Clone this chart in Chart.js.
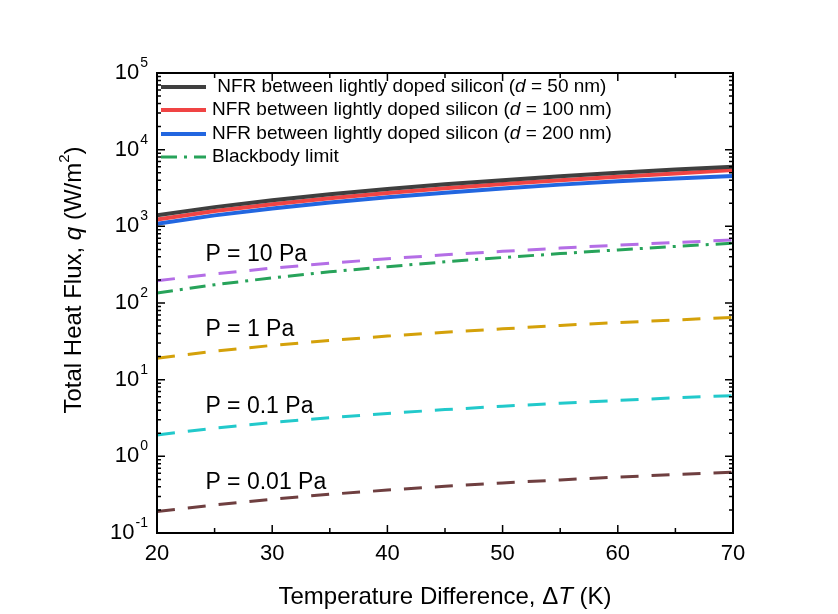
<!DOCTYPE html>
<html>
<head>
<meta charset="utf-8">
<script src="https://cdn.jsdelivr.net/npm/chart.js@4"></script>
<style>
  body { margin: 0; background: #fff; }
  #wrap { width: 838px; height: 614px; }
</style>
</head>
<body>
<div id="wrap"><canvas id="fluxChart" width="838" height="614"></canvas></div>
<script>
// data (q in W/m^2 vs temperature difference in K)
const deltaT = [20, 25, 30, 35, 40, 45, 50, 55, 60, 65, 70];
const nfr50 = [1390, 1780, 2190, 2620, 3060, 3530, 4000, 4490, 4990, 5500, 6000];
const nfr100 = [1230, 1580, 1940, 2320, 2720, 3130, 3560, 4000, 4440, 4900, 5420];
const nfr200 = [1080, 1390, 1710, 2040, 2390, 2750, 3120, 3500, 3880, 4210, 4530];
const blackbody = [135, 173, 213, 255, 298, 344, 392, 441, 493, 547, 603];
const p10 = [195, 240, 285, 330, 378, 425, 472, 520, 568, 615, 663];
const p1 = [19, 23.5, 28, 32.5, 37, 41.5, 46, 51, 55.5, 60, 65];
const p01 = [1.9, 2.33, 2.76, 3.2, 3.63, 4.07, 4.5, 4.93, 5.36, 5.8, 6.2];
const p001 = [0.19, 0.233, 0.276, 0.32, 0.363, 0.407, 0.45, 0.493, 0.536, 0.58, 0.62];

const xTickLabels = [20, 30, 40, 50, 60, 70];
const yTickExps = [-1, 0, 1, 2, 3, 4, 5];
const pLabels = ['P = 10 Pa', 'P = 1 Pa', 'P = 0.1 Pa', 'P = 0.01 Pa'];
const pLabelY = [430, 44.5, 4.48, 0.45];

const FONT = '"Liberation Sans", Arial, sans-serif';
const pts = arr => deltaT.map((t, i) => ({ x: t, y: arr[i] }));

const solid = (label, arr, color) => ({
  label, data: pts(arr), borderColor: color, borderWidth: 4,
  pointRadius: 0, fill: false, tension: 0
});
const dashed = (label, arr, color, dash) => ({
  label, data: pts(arr), borderColor: color, borderWidth: 3,
  borderDash: dash, pointRadius: 0, fill: false, tension: 0
});

const datasets = [
  solid('NFR 50', nfr50, '#3f3f3f'),
  solid('NFR 100', nfr100, '#f04444'),
  solid('NFR 200', nfr200, '#2266e0'),
  dashed('Blackbody', blackbody, '#27a35a', [16, 7, 3, 7]),
  dashed('P10', p10, '#b46ee6', [18, 13]),
  dashed('P1', p1, '#d4a10a', [18, 13]),
  dashed('P0.1', p01, '#22c9cb', [18, 13]),
  dashed('P0.01', p001, '#6f3f40', [18, 13])
];

// legend entries: dataset index + rich text pieces
const legendRows = [
  [0, [[' NFR between lightly doped silicon (', ''], ['d', 'italic '], [' = 50 nm)', '']]],
  [1, [['NFR between lightly doped silicon (', ''], ['d', 'italic '], [' = 100 nm)', '']]],
  [2, [['NFR between lightly doped silicon (', ''], ['d', 'italic '], [' = 200 nm)', '']]],
  [3, [['Blackbody limit', '']]]
];

function richWidth(ctx, parts, size) {
  let w = 0;
  parts.forEach(p => {
    ctx.font = (p[1] || '') + (p[2] || size) + 'px ' + FONT;
    w += ctx.measureText(p[0]).width;
  });
  return w;
}
function drawRich(ctx, parts, x, y, size) {
  parts.forEach(p => {
    ctx.font = (p[1] || '') + (p[2] || size) + 'px ' + FONT;
    ctx.fillText(p[0], x, y + (p[3] || 0));
    x += ctx.measureText(p[0]).width;
  });
}

const decor = {
  id: 'decor',
  afterDraw(chart) {
    const { ctx, chartArea: { left, right, top, bottom }, scales: { x, y } } = chart;
    ctx.save();
    ctx.strokeStyle = '#000';
    ctx.fillStyle = '#000';

    // frame
    ctx.lineWidth = 2;
    ctx.strokeRect(left, top, right - left, bottom - top);

    // inward ticks
    ctx.lineWidth = 1.5;
    ctx.beginPath();
    for (let t = 20; t <= 70; t += 5) {
      const px = x.getPixelForValue(t);
      const len = t % 10 === 0 ? 8 : 5;
      ctx.moveTo(px, bottom); ctx.lineTo(px, bottom - len);
      ctx.moveTo(px, top); ctx.lineTo(px, top + len);
    }
    for (let e = -1; e <= 5; e++) {
      for (let m = 1; m <= 9; m++) {
        if (e === 5 && m > 1) break;
        const py = y.getPixelForValue(m * Math.pow(10, e));
        const len = m === 1 ? 8 : 4;
        ctx.moveTo(left, py); ctx.lineTo(left + len, py);
        ctx.moveTo(right, py); ctx.lineTo(right - len, py);
      }
    }
    ctx.stroke();

    // x tick labels
    ctx.textAlign = 'center';
    ctx.textBaseline = 'middle';
    ctx.font = '22px ' + FONT;
    xTickLabels.forEach(t => ctx.fillText(String(t), x.getPixelForValue(t), bottom + 21));

    // y tick labels 10^n
    ctx.textAlign = 'left';
    yTickExps.forEach(e => {
      const py = y.getPixelForValue(Math.pow(10, e));
      const sup = String(e);
      ctx.font = '14px ' + FONT;
      const sw = ctx.measureText(sup).width;
      ctx.font = '22px ' + FONT;
      const bw = ctx.measureText('10').width;
      const x0 = left - 10 - sw - bw;
      ctx.textBaseline = 'middle';
      ctx.fillText('10', x0, py);
      ctx.font = '14px ' + FONT;
      ctx.fillText(sup, x0 + bw + 1, py - 10);
    });

    // x title
    ctx.textBaseline = 'middle';
    const xt = [['Temperature Difference, \u0394', ''], ['T', 'italic '], [' (K)', '']];
    const xw = richWidth(ctx, xt, 24);
    ctx.textAlign = 'left';
    drawRich(ctx, xt, (left + right) / 2 - xw / 2, 597, 24);

    // y title (rotated)
    const yt = [['Total Heat Flux, ', ''], ['q', 'italic '], [' (W/m', ''], ['2', '', 15, -9], [')', '']];
    const yw = richWidth(ctx, yt, 24);
    ctx.save();
    ctx.translate(74, 280);
    ctx.rotate(-Math.PI / 2);
    drawRich(ctx, yt, -yw / 2, 0, 24);
    ctx.restore();

    // legend
    const rowY = [87, 110, 134, 157];
    legendRows.forEach((row, i) => {
      const ds = chart.data.datasets[row[0]];
      ctx.save();
      ctx.strokeStyle = ds.borderColor;
      ctx.lineWidth = ds.borderWidth;
      ctx.setLineDash(ds.borderDash || []);
      ctx.beginPath();
      ctx.moveTo(left + 4, rowY[i]);
      ctx.lineTo(left + 49, rowY[i]);
      ctx.stroke();
      ctx.restore();
      ctx.textBaseline = 'middle';
      drawRich(ctx, row[1], left + 55, rowY[i], 19);
    });

    // pressure labels
    ctx.font = '23px ' + FONT;
    ctx.textBaseline = 'middle';
    pLabels.forEach((txt, i) => {
      ctx.fillText(txt, x.getPixelForValue(24.2), y.getPixelForValue(pLabelY[i]));
    });
    ctx.restore();
  }
};

new Chart(document.getElementById('fluxChart'), {
  type: 'line',
  data: { datasets },
  options: {
    responsive: false,
    animation: false,
    layout: { padding: { left: 157, top: 73, right: 105, bottom: 81 } },
    scales: {
      x: { type: 'linear', min: 20, max: 70, display: false },
      y: { type: 'logarithmic', min: 0.1, max: 100000, display: false }
    },
    plugins: {
      legend: { display: false },
      tooltip: { enabled: false }
    }
  },
  plugins: [decor]
});
</script>
</body>
</html>
